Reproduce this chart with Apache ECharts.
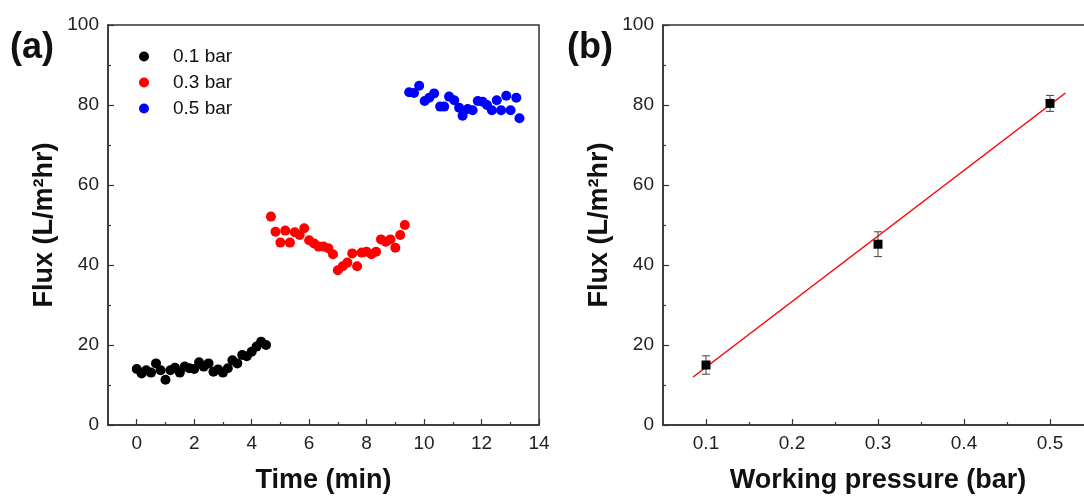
<!DOCTYPE html>
<html lang="en">
  <head>
    <meta charset="UTF-8" />
    <title>Flux vs time and pressure</title>
    <script src="https://cdn.jsdelivr.net/npm/echarts@6.0.0/dist/echarts.min.js"></script>
  </head>
  <body style="margin: 0; background: #fff">
    <div id="main" style="width: 1084px; height: 502px"></div>
    <script type="text/javascript">
      // panel (a): flux over time at three pressures
      const time01 = [0, 0.17, 0.33, 0.5, 0.67, 0.83, 1.0, 1.17, 1.33, 1.5, 1.67, 1.83, 2.0, 2.17,
        2.33, 2.5, 2.67, 2.83, 3.0, 3.17, 3.33, 3.5, 3.67, 3.83, 4.0, 4.17, 4.33, 4.5];
      const flux01 = [14.0, 12.9, 13.7, 13.1, 15.4, 13.7, 11.3, 13.7, 14.3, 13.1, 14.6, 14.2, 14.0, 15.7,
        14.6, 15.4, 13.3, 13.9, 13.1, 14.2, 16.2, 15.4, 17.5, 17.2, 18.3, 19.6, 20.8, 20.0];
      const time03 = [4.67, 4.83, 5.0, 5.17, 5.33, 5.5, 5.67, 5.83, 6.0, 6.17, 6.33, 6.5, 6.67, 6.83,
        7.0, 7.17, 7.33, 7.5, 7.67, 7.83, 8.0, 8.17, 8.33, 8.5, 8.67, 8.83, 9.0, 9.17, 9.33];
      const flux03 = [52.1, 48.3, 45.6, 48.6, 45.6, 48.2, 47.5, 49.2, 46.2, 45.4, 44.6, 44.6, 44.2, 42.7,
        38.7, 39.7, 40.6, 42.9, 39.7, 43.1, 43.3, 42.7, 43.3, 46.4, 45.8, 46.4, 44.3, 47.5, 50.0];
      const time05 = [9.48, 9.65, 9.83, 10.02, 10.18, 10.35, 10.56, 10.7, 10.87, 11.05, 11.22, 11.34,
        11.52, 11.69, 11.87, 12.04, 12.19, 12.36, 12.53, 12.68, 12.86, 13.01, 13.21, 13.32];
      const flux05 = [83.2, 83.0, 84.8, 81.0, 81.8, 82.9, 79.6, 79.6, 82.1, 81.2, 79.3, 77.3,
        79.0, 78.7, 81.0, 80.8, 80.0, 78.7, 81.2, 78.7, 82.3, 78.7, 81.8, 76.7];
      const seriesNames = ["0.1 bar", "0.3 bar", "0.5 bar"];
      const timeTicks = [0, 2, 4, 6, 8, 10, 12, 14];
      const timeMinorTicks = [1, 3, 5, 7, 9, 11, 13];

      // panel (b): mean flux vs working pressure, with error and linear fit
      const pressure = [0.1, 0.3, 0.5];
      const meanFlux = [15.0, 45.2, 80.4];
      const fluxErr = [2.3, 3.1, 2.0];
      const fitX = [0.085, 0.518];
      const fitY = [12.0, 83.0];
      const pressureTicks = [0.1, 0.2, 0.3, 0.4, 0.5];
      const pressureMinorTicks = [0.15, 0.25, 0.35, 0.45];

      const font = "Liberation Sans, Arial, sans-serif";
      const ink = "#222";
      const zip = (xs, ys) => xs.map((x, i) => [x, ys[i]]);
      const titleStyle = { fontFamily: font, fontSize: 27, fontWeight: "bold", color: "#111" };

      const yAxisBase = (gridIndex) => ({
        gridIndex: gridIndex,
        type: "value",
        min: 0,
        max: 100,
        interval: 20,
        name: "Flux (L/m\u00b2hr)",
        nameLocation: "middle",
        nameGap: 50,
        nameTextStyle: titleStyle,
        axisLine: { show: true, onZero: false, lineStyle: { color: "#333", width: 1.5 } },
        axisTick: { inside: true, length: 6, lineStyle: { color: "#333", width: 1.2 } },
        minorTick: { show: true, splitNumber: 2, length: 3, lineStyle: { color: "#333", width: 1.2 } },
        axisLabel: { fontFamily: font, fontSize: 19, color: ink, margin: 9 },
        splitLine: { show: false },
      });

      const minorXAxis = (gridIndex, min, max, values) => ({
        gridIndex: gridIndex,
        type: "value",
        position: "bottom",
        min: min,
        max: max,
        axisLine: { show: false },
        axisTick: { show: true, inside: true, length: 3, customValues: values, lineStyle: { color: "#333", width: 1.2 } },
        axisLabel: { show: false },
        splitLine: { show: false },
      });

      const options = {
        animation: false,
        backgroundColor: "#fff",
        textStyle: { fontFamily: font },
        grid: [
          { left: 108, top: 25, width: 431, height: 400, outerBoundsMode: "none",
            show: true, borderColor: "#333", borderWidth: 1.5 },
          { left: 663, top: 25, width: 430, height: 400, outerBoundsMode: "none",
            show: true, borderColor: "#333", borderWidth: 1.5 },
        ],
        legend: {
          data: seriesNames,
          orient: "vertical",
          left: 134,
          top: 41,
          itemWidth: 10,
          itemHeight: 10,
          itemGap: 5,
          icon: "circle",
          textStyle: { fontFamily: font, fontSize: 19, color: "#111", lineHeight: 21, padding: [0, 0, 0, 19] },
        },
        graphic: [
          { type: "text", left: 10, top: 30, style: { text: "(a)", fontFamily: font, fontSize: 36, fontWeight: "bold", fill: "#111" } },
          { type: "text", left: 567, top: 30, style: { text: "(b)", fontFamily: font, fontSize: 36, fontWeight: "bold", fill: "#111" } },
        ],
        xAxis: [
          {
            gridIndex: 0,
            type: "value",
            min: -1,
            max: 14,
            name: "Time (min)",
            nameLocation: "middle",
            nameGap: 42,
            nameTextStyle: titleStyle,
            axisLine: { show: true, onZero: false, lineStyle: { color: "#333", width: 1.5 } },
            axisTick: { inside: true, length: 6, customValues: timeTicks, lineStyle: { color: "#333", width: 1.2 } },
            axisLabel: { fontFamily: font, fontSize: 19, color: ink, margin: 9, customValues: timeTicks },
            splitLine: { show: false },
          },
          minorXAxis(0, -1, 14, timeMinorTicks),
          {
            gridIndex: 1,
            type: "value",
            min: 0.05,
            max: 0.55,
            name: "Working pressure (bar)",
            nameLocation: "middle",
            nameGap: 42,
            nameTextStyle: titleStyle,
            axisLine: { show: true, onZero: false, lineStyle: { color: "#333", width: 1.5 } },
            axisTick: { inside: true, length: 6, customValues: pressureTicks, lineStyle: { color: "#333", width: 1.2 } },
            axisLabel: {
              fontFamily: font,
              fontSize: 19,
              color: ink,
              margin: 9,
              customValues: pressureTicks,
              formatter: (v) => v.toFixed(1),
            },
            splitLine: { show: false },
          },
          minorXAxis(1, 0.05, 0.55, pressureMinorTicks),
        ],
        yAxis: [yAxisBase(0), yAxisBase(1)],
        series: [
          {
            name: seriesNames[0],
            type: "scatter",
            xAxisIndex: 0,
            yAxisIndex: 0,
            symbolSize: 10,
            itemStyle: { color: "#000", opacity: 1 },
            data: zip(time01, flux01),
          },
          {
            name: seriesNames[1],
            type: "scatter",
            xAxisIndex: 0,
            yAxisIndex: 0,
            symbolSize: 10,
            itemStyle: { color: "#ff0000", opacity: 1 },
            data: zip(time03, flux03),
          },
          {
            name: seriesNames[2],
            type: "scatter",
            xAxisIndex: 0,
            yAxisIndex: 0,
            symbolSize: 10,
            itemStyle: { color: "#0000ff", opacity: 1 },
            data: zip(time05, flux05),
          },
          {
            // linear fit
            type: "line",
            xAxisIndex: 2,
            yAxisIndex: 1,
            showSymbol: false,
            lineStyle: { color: "#ff0000", width: 1.5 },
            data: zip(fitX, fitY),
            z: 2,
          },
          {
            // error bars
            type: "custom",
            xAxisIndex: 2,
            yAxisIndex: 1,
            data: pressure.map((p, i) => [p, meanFlux[i] - fluxErr[i], meanFlux[i] + fluxErr[i]]),
            renderItem: (params, api) => {
              const lo = api.coord([api.value(0), api.value(1)]);
              const hi = api.coord([api.value(0), api.value(2)]);
              const w = 4;
              const style = { stroke: "#444", lineWidth: 1 };
              return {
                type: "group",
                children: [
                  { type: "line", shape: { x1: lo[0], y1: lo[1], x2: hi[0], y2: hi[1] }, style: style },
                  { type: "line", shape: { x1: lo[0] - w, y1: lo[1], x2: lo[0] + w, y2: lo[1] }, style: style },
                  { type: "line", shape: { x1: hi[0] - w, y1: hi[1], x2: hi[0] + w, y2: hi[1] }, style: style },
                ],
              };
            },
            z: 3,
          },
          {
            type: "scatter",
            xAxisIndex: 2,
            yAxisIndex: 1,
            symbol: "rect",
            symbolSize: 9,
            itemStyle: { color: "#000", opacity: 1 },
            data: zip(pressure, meanFlux),
            z: 4,
          },
        ],
      };

      let myChart = echarts.init(document.getElementById("main"));
      myChart.setOption(options);
    </script>
  </body>
</html>
